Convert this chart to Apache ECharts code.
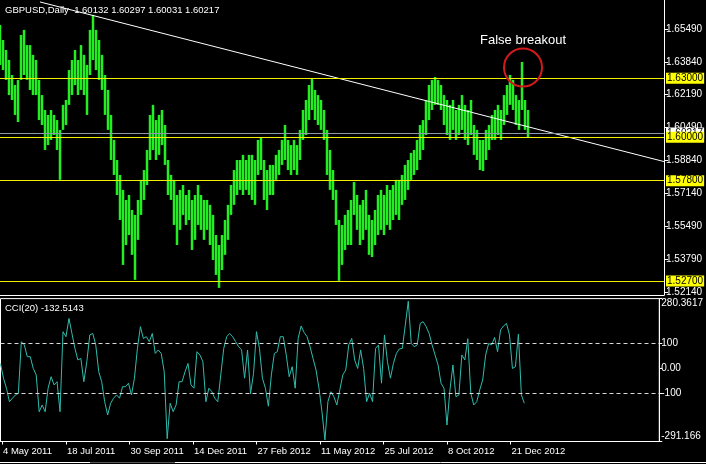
<!DOCTYPE html>
<html><head><meta charset="utf-8">
<script src="https://cdn.jsdelivr.net/npm/echarts@6/dist/echarts.min.js"></script>
<style>html,body{margin:0;padding:0;background:#000;}#c{width:706px;height:464px;}</style>
</head><body><div id="c"></div>
<script>
// ---- data ----
const dateLabels = ['4 May 2011','18 Jul 2011','30 Sep 2011','14 Dec 2011','27 Feb 2012','11 May 2012','25 Jul 2012','8 Oct 2012','21 Dec 2012'];
const dateTickBars = [1.5, 66, 130, 194, 258, 322, 386, 450, 514];
const priceTicks = [1.6549, 1.6384, 1.6219, 1.6049, 1.5884, 1.5714, 1.5549, 1.5379, 1.5214];
const levelLines = [1.63, 1.60, 1.578, 1.527];
const bidPrice = 1.60217;
const barStep = 3; // one sample every 3 daily bars
const highs = [
1.6571,1.6495,1.6444,1.6393,1.6317,1.6266,1.6292,1.6520,1.6546,1.6469,
1.6469,1.6419,1.6393,1.6292,1.6215,1.6139,1.6114,1.6139,1.6114,1.6088,
1.6038,1.6165,1.6190,1.6342,1.6393,1.6444,1.6393,1.6469,1.6419,1.6368,
1.6546,1.6622,1.6546,1.6495,1.6419,1.6317,1.6241,1.6114,1.5987,1.5885,
1.5809,1.5733,1.5682,1.5707,1.5631,1.5606,1.5682,1.5784,1.5834,1.5936,
1.6114,1.6165,1.6088,1.6114,1.6139,1.6063,1.5885,1.5809,1.5784,1.5707,
1.5733,1.5758,1.5707,1.5733,1.5682,1.5707,1.5758,1.5707,1.5682,1.5682,
1.5657,1.5606,1.5504,1.5453,1.5504,1.5580,1.5657,1.5758,1.5834,1.5885,
1.5885,1.5911,1.5885,1.5911,1.5911,1.5885,1.5987,1.6002,1.5885,1.5834,
1.5860,1.5860,1.5911,1.5936,1.5987,1.6063,1.5987,1.5961,1.5987,1.5961,
1.6038,1.6139,1.6190,1.6266,1.6302,1.6241,1.6215,1.6190,1.6139,1.6038,
1.5936,1.5834,1.5733,1.5580,1.5555,1.5606,1.5631,1.5682,1.5773,1.5707,
1.5657,1.5682,1.5733,1.5606,1.5580,1.5631,1.5707,1.5733,1.5707,1.5758,
1.5733,1.5758,1.5784,1.5784,1.5809,1.5860,1.5885,1.5921,1.5936,1.5987,
1.6063,1.6088,1.6190,1.6266,1.6292,1.6307,1.6292,1.6266,1.6215,1.6190,
1.6165,1.6190,1.6139,1.6165,1.6215,1.6165,1.6139,1.6190,1.6063,1.6038,
1.5987,1.5987,1.6038,1.6063,1.6114,1.6139,1.6165,1.6139,1.6215,1.6266,
1.6317,1.6292,1.6215,1.6190,1.6383,1.6190,1.6139];
const lows = [
1.6368,1.6342,1.6292,1.6215,1.6190,1.6114,1.6078,1.6292,1.6317,1.6292,
1.6241,1.6215,1.6215,1.6088,1.6063,1.5936,1.5961,1.5987,1.6012,1.5936,
1.5784,1.6038,1.6063,1.6165,1.6215,1.6266,1.6215,1.6241,1.6215,1.6114,
1.6317,1.6393,1.6342,1.6292,1.6241,1.6114,1.6038,1.5885,1.5809,1.5707,
1.5580,1.5352,1.5453,1.5504,1.5403,1.5276,1.5479,1.5606,1.5682,1.5758,
1.5885,1.5936,1.5885,1.5911,1.5961,1.5860,1.5707,1.5682,1.5555,1.5453,
1.5530,1.5606,1.5555,1.5580,1.5428,1.5479,1.5555,1.5530,1.5479,1.5530,
1.5453,1.5377,1.5301,1.5235,1.5326,1.5403,1.5479,1.5606,1.5657,1.5707,
1.5733,1.5707,1.5733,1.5707,1.5682,1.5657,1.5809,1.5834,1.5682,1.5631,
1.5707,1.5707,1.5784,1.5809,1.5860,1.5885,1.5834,1.5809,1.5834,1.5809,
1.5885,1.5987,1.6012,1.6088,1.6139,1.6088,1.6063,1.6038,1.5987,1.5809,
1.5733,1.5682,1.5555,1.5271,1.5352,1.5428,1.5453,1.5453,1.5606,1.5530,
1.5453,1.5479,1.5530,1.5403,1.5392,1.5453,1.5504,1.5530,1.5504,1.5555,
1.5530,1.5580,1.5606,1.5580,1.5657,1.5682,1.5733,1.5784,1.5809,1.5834,
1.5885,1.5936,1.6012,1.6088,1.6139,1.6165,1.6165,1.6139,1.6063,1.6012,
1.5987,1.6038,1.5987,1.6012,1.6038,1.5987,1.5961,1.6012,1.5911,1.5885,
1.5834,1.5829,1.5885,1.5936,1.5987,1.5987,1.6012,1.5987,1.6063,1.6114,
1.6165,1.6139,1.6063,1.6038,1.6139,1.6038,1.5997];
const cci = [
20,-38,-78,-132,-118,-105,-98,108,95,48,
48,1,-25,-172,-145,-172,-78,-32,-65,-52,
-172,148,128,201,141,81,35,41,-52,28,
135,141,95,-12,-52,-132,-185,-138,-118,-105,
-118,-72,-72,-58,-105,-38,81,168,121,128,
108,141,61,75,61,-12,-280,-138,-172,-145,
-52,-52,-12,21,-65,-78,68,55,28,-132,
-78,-92,-118,-132,-25,81,128,141,128,108,
88,75,-38,75,-100,-20,148,81,-38,-78,
-150,-25,61,68,128,128,55,-32,8,-78,
121,171,145,128,88,41,-5,-78,-172,-285,
-132,-92,-112,-145,-85,-25,-5,95,121,35,
1,75,1,-132,-98,-132,81,95,-58,135,
28,-38,21,61,79,81,175,270,101,88,
95,181,188,168,141,95,55,15,-58,-78,
-225,-85,15,-112,-105,55,35,120,-98,-145,
-132,-85,-45,55,101,95,125,68,155,171,
181,135,1,8,138,-105,-138];
const cciTicks = [280.3617, 100, 0, -100, -291.166];
const cciTickLabels = ['280.3617', '100', '0.00', '-100', '-291.166'];
const cciLevels = [100, -100];
const trendLine = [[40, 1.6688], [664, 1.5877]];
const breakoutPoint = [523, 1.6355];
const breakoutNote = [523, 1.6495];
const titleText = 'GBPUSD,Daily  1.60132 1.60297 1.60031 1.60217';
const cciTitle = 'CCI(20) -132.5143';

// ---- chart ----
const FONT = "'Liberation Sans', Arial, sans-serif";
const bars = highs.map((h, i) => [i * barStep, lows[i], h]);
const cciData = cci.map((v, i) => [i * barStep, v]);
const chart = echarts.init(document.getElementById('c'), null, {renderer: 'canvas'});
const lvlLabel = (bg, txt) => ({show: true, position: 'end', distance: 2, fontSize: 10, fontFamily: FONT,
  color: '#000', backgroundColor: bg, padding: [1, 1, 0, 1], formatter: txt});
chart.setOption({
  animation: false,
  backgroundColor: '#000',
  textStyle: {fontFamily: FONT},
  title: [
    {text: titleText, left: 5, top: 5, padding: 0, textStyle: {color: '#fff', fontSize: 9.5, fontWeight: 'normal', fontFamily: FONT}},
    {text: cciTitle, left: 5, top: 303, padding: 0, textStyle: {color: '#fff', fontSize: 9.5, fontWeight: 'normal', fontFamily: FONT}}
  ],
  grid: [
    {left: 0, top: 0, width: 664, height: 295},
    {left: 0, top: 298.6, width: 664, height: 142.9, show: true, borderColor: '#fff', borderWidth: 1, backgroundColor: 'transparent'}
  ],
  xAxis: [
    {type: 'value', gridIndex: 0, min: 0, max: 664, axisLine: {show: true, onZero: false, lineStyle: {color: '#fff'}},
     axisTick: {show: false}, axisLabel: {show: false}, splitLine: {show: false}},
    {type: 'value', gridIndex: 1, min: 0, max: 664,
     axisLine: {show: true, onZero: false, lineStyle: {color: '#fff'}},
     axisTick: {show: true, length: 3, lineStyle: {color: '#fff'}, customValues: dateTickBars},
     axisLabel: {show: true, color: '#fff', fontSize: 9.5, align: 'left', margin: 5, padding: [0, 0, 0, 1],
       customValues: dateTickBars, formatter: v => dateLabels[dateTickBars.indexOf(v)] || ''},
     splitLine: {show: false}}
  ],
  yAxis: [
    {type: 'value', gridIndex: 0, position: 'right', min: 1.5199, max: 1.6698,
     axisLine: {show: true, onZero: false, lineStyle: {color: '#fff'}},
     axisTick: {show: true, length: 4, lineStyle: {color: '#fff'}, customValues: priceTicks},
     axisLabel: {show: true, color: '#fff', fontSize: 10, margin: 2, customValues: priceTicks, formatter: v => v.toFixed(5)},
     splitLine: {show: false}},
    {type: 'value', gridIndex: 1, position: 'right', min: -291.166, max: 280.3617,
     axisLine: {show: true, onZero: false, lineStyle: {color: '#fff'}},
     axisTick: {show: true, length: 3, lineStyle: {color: '#fff'}, customValues: cciTicks},
     axisLabel: {show: true, color: '#fff', fontSize: 10, margin: 2, customValues: cciTicks,
       verticalAlignMaxLabel: 'bottom', verticalAlignMinLabel: 'top',
       formatter: v => { const i = cciTicks.indexOf(v); return i >= 0 ? cciTickLabels[i] : ''; }},
     splitLine: {show: false}}
  ],
  series: [
    {type: 'custom', xAxisIndex: 0, yAxisIndex: 0, data: bars, clip: true,
     renderItem: function (params, api) {
       const x = api.value(0);
       const top = api.coord([x, api.value(2)]);
       const bot = api.coord([x, api.value(1)]);
       return {type: 'rect', shape: {x: top[0] - 1.25, y: top[1], width: 2.5, height: bot[1] - top[1]},
               style: {fill: '#22ee22'}};
     }},
    {type: 'line', xAxisIndex: 0, yAxisIndex: 0, data: trendLine, showSymbol: false, silent: true,
     lineStyle: {color: '#fff', width: 1},
     markLine: {silent: true, symbol: ['none', 'none'], precision: 5,
       data: [
         {yAxis: bidPrice, lineStyle: {color: '#8c9aa8', width: 1, type: 'solid'}, label: lvlLabel('#fff', bidPrice.toFixed(5))}
       ].concat(levelLines.map(v => ({yAxis: v, lineStyle: {color: '#f0f000', width: 1, type: 'solid'}, label: lvlLabel('#ffff00', v.toFixed(5))})))},
     markPoint: {silent: true,
       data: [
         {coord: breakoutPoint, symbol: 'circle', symbolSize: 38,
          itemStyle: {color: 'rgba(0,0,0,0)', borderColor: '#d41a1a', borderWidth: 2}, label: {show: false}},
         {coord: breakoutNote, symbol: 'rect', symbolSize: 0,
          label: {show: true, position: 'inside', formatter: 'False breakout', color: '#fff', fontSize: 13, fontFamily: FONT}}
       ]}},
    {type: 'line', xAxisIndex: 1, yAxisIndex: 1, data: cciData, showSymbol: false, silent: true,
     lineStyle: {color: '#2fbcad', width: 1},
     markLine: {silent: true, symbol: ['none', 'none'], label: {show: false},
       lineStyle: {color: '#d8d8d8', width: 1, type: [4, 3]},
       data: cciLevels.map(v => ({yAxis: v}))}}
  ],
  graphic: [
    {type: 'line', shape: {x1: 0, y1: 462.5, x2: 90, y2: 462.5}, style: {stroke: '#fff', lineWidth: 1}},
    {type: 'line', shape: {x1: 90, y1: 462.5, x2: 175, y2: 462.5}, style: {stroke: '#555', lineWidth: 1}},
    {type: 'line', shape: {x1: 175, y1: 462.5, x2: 706, y2: 462.5}, style: {stroke: '#fff', lineWidth: 1}}
  ]
});
</script></body></html>
